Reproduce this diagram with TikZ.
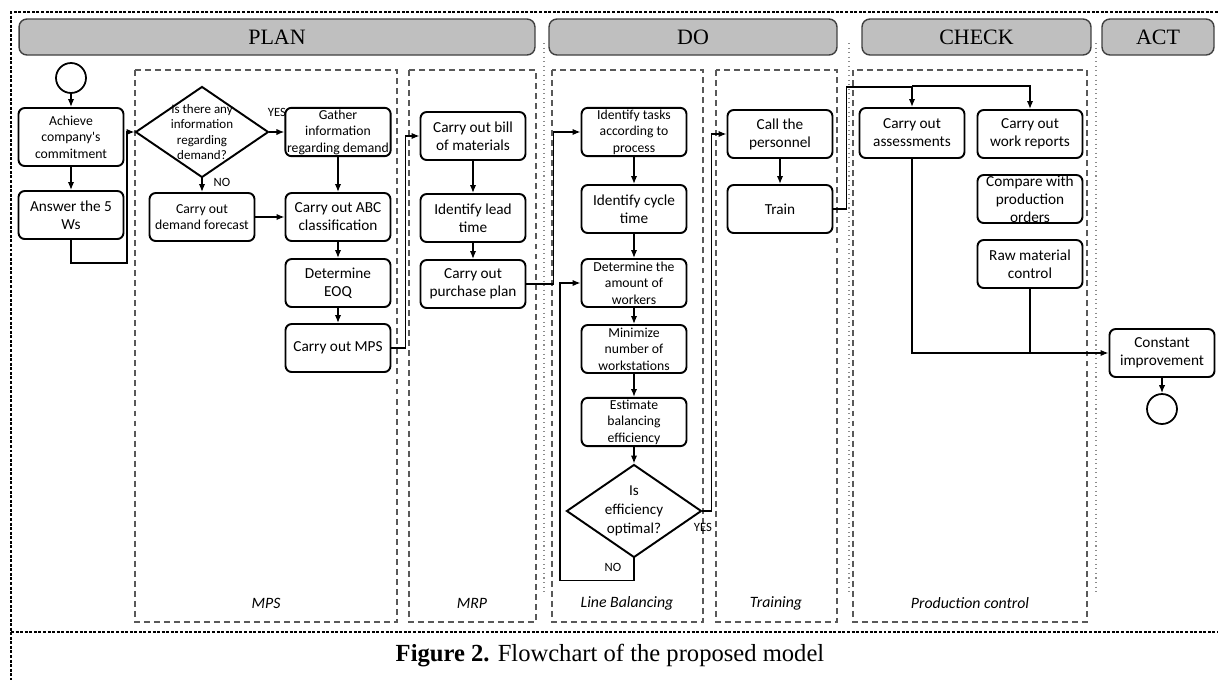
\documentclass[tikz,border=0pt]{standalone}
\usepackage{fontspec}
\setmainfont{Liberation Serif}
\newfontfamily\boxfont{Carlito}
\usetikzlibrary{shapes.geometric, arrows.meta}

\tikzset{
  box/.style={draw, fill=white, rounded corners=3.5pt, line width=1.1pt, align=center,
    minimum width=2.1cm, minimum height=0.96cm, inner sep=1pt,
    font=\boxfont\fontsize{8.7}{10.2}\selectfont},
  smallbox/.style={box, font=\boxfont\fontsize{7.8}{9.4}\selectfont},
  query/.style={draw, diamond, fill=white, line width=1.1pt, inner sep=0pt},
  qtext/.style={align=center, inner sep=0pt},
  terminal/.style={draw, circle, line width=1pt, minimum size=0.6cm, inner sep=0pt},
  phase/.style={draw=black!75, fill=black!25, rounded corners=4.5pt, line width=0.8pt,
    minimum height=0.72cm, font=\fontsize{12.5}{14}\selectfont},
  group/.style={draw=black!65, line width=0.85pt, dash pattern=on 3.4pt off 2.3pt},
  grouplabel/.style={font=\boxfont\itshape\fontsize{9}{11}\selectfont},
  reply/.style={font=\boxfont\fontsize{7.2}{8.6}\selectfont, inner sep=0pt},
  lane/.style={draw=black!45, dotted, line width=0.6pt},
  frame/.style={line width=0.8pt, dash pattern=on 1.7pt off 0.9pt},
}

\begin{document}
\begin{tikzpicture}[x=0.02cm, y=-0.02cm, >={Latex[length=4.5pt,width=3.6pt]}, line width=0.85pt]
  \useasboundingbox (0,0) rectangle (1218,680);
  % outer frame
  \draw[frame] (1218,12) -- (11,12) -- (11,680);
  \draw[frame] (11,632) -- (1218,632);

  % phases
  \node[phase, minimum width=10.32cm] (plan)  at (277,37)    {PLAN};
  \node[phase, minimum width=5.76cm]  (do)    at (693,37)    {DO};
  \node[phase, minimum width=4.58cm]  (check) at (976.5,37)  {CHECK};
  \node[phase, minimum width=2.24cm]  (act)   at (1158,37)   {ACT};
  \draw[lane] (544,43) -- (544,593);
  \draw[lane] (849,43) -- (849,593);
  \draw[lane] (1096,43) -- (1096,593);

  % groups
  \draw[group] (135,70) rectangle (397,622);
  \draw[group] (409,70) rectangle (536,622);
  \draw[group] (552,70) rectangle (703,622);
  \draw[group] (716,70) rectangle (837,622);
  \draw[group] (853,70) rectangle (1087,622);
  \node[grouplabel] (lmps)  at (266,603)  {MPS};
  \node[grouplabel] (lmrp)  at (472,603)  {MRP};
  \node[grouplabel] (llb)   at (627,603)  {Line Balancing};
  \node[grouplabel] (ltr)   at (776,603)  {Training};
  \node[grouplabel] (lpc)   at (970,603)  {Production control};

  % PLAN
  \node[terminal] (start) at (71,78) {};
  \node[smallbox, minimum height=1.16cm] (achieve) at (71,137) {Achieve\\company's\\commitment};
  \node[box] (ws) at (71,215) {Answer the 5\\Ws};
  \node[query, minimum width=2.66cm, minimum height=1.82cm,
    label={[qtext, font=\boxfont\fontsize{7.4}{8.8}\selectfont]center:Is there any\\information\\regarding\\demand?}]
    (q1) at (202,132) {};
  \node[smallbox] (gather)   at (338,132) {Gather\\information\\regarding demand};
  \node[smallbox] (forecast) at (202,217) {Carry out\\demand forecast};
  \node[box] (abc)  at (338,217) {Carry out ABC\\classification};
  \node[box] (eoq)  at (338,283) {Determine\\EOQ};
  \node[box] (mps)  at (338,348) {Carry out MPS};
  \node[reply] (yes1) at (277,112) {YES};
  \node[reply] (no1)  at (222,182) {NO};

  \node[box] (bom)      at (473,136) {Carry out bill\\of materials};
  \node[box] (lead)     at (473,218) {Identify lead\\time};
  \node[box] (purchase) at (473,284) {Carry out\\purchase plan};

  % DO
  \node[smallbox] (tasks)   at (634,132) {Identify tasks\\according to\\process};
  \node[box]      (cycle)   at (634,209) {Identify cycle\\time};
  \node[smallbox] (workers) at (634,283) {Determine the\\amount of\\workers};
  \node[smallbox] (minws)   at (634,349) {Minimize\\number of\\workstations};
  \node[smallbox] (estim)   at (634,422) {Estimate\\balancing\\efficiency};
  \node[query, minimum width=2.7cm, minimum height=1.86cm,
    label={[qtext, font=\boxfont\fontsize{8.6}{10.8}\selectfont]center:Is\\efficiency\\optimal?}]
    (q2) at (634,511) {};
  \node[reply] (yes2) at (703,527) {YES};
  \node[reply] (no2)  at (613,567) {NO};

  \node[box] (call)  at (780,134) {Call the\\personnel};
  \node[box] (train) at (780,209) {Train};

  % CHECK
  \node[box, minimum height=1cm] (assess) at (912,133) {Carry out\\assessments};
  \node[box] (reports) at (1030,134) {Carry out\\work reports};
  \node[box, inner ysep=-2pt, minimum height=0.96cm] (compare) at (1030,199) {Compare with\\production\\orders};
  \node[box] (raw) at (1030,264) {Raw material\\control};

  % ACT
  \node[box] (improve) at (1162,353) {Constant\\improvement};
  \node[terminal] (stop) at (1162,409) {};

  \path[->]
    (start)    edge (achieve)
    (achieve)  edge (ws)
    (q1)       edge (gather)
    (q1)       edge (forecast)
    (forecast) edge (abc)
    (gather)   edge (abc)
    (abc)      edge (eoq)
    (eoq)      edge (mps)
    (bom)      edge (lead)
    (lead)     edge (purchase)
    (tasks)    edge (cycle)
    (cycle)    edge (workers)
    (workers)  edge (minws)
    (minws)    edge (estim)
    (estim)    edge (q2)
    (call)     edge (train)
    (improve)  edge (stop)
    ;
  \draw[->] (ws.south) -- ++(0,23) -- ++(56,0) |- (q1.west);
  \draw[->] (mps.east) -- ++(14,0) |- (bom.west);
  \draw[->] (purchase.east) -- ++(27,0) |- (tasks.west);
  \draw[->] (q2.south) -- ++(0,22) -- ++(-74,0) |- (workers.west);
  \draw[->] (q2.east) -- ++(9,0) |- (call.west);
  \draw[->] (train.east) -- ++(13,0) -- ++(0,-122) -| (assess.north);
  \draw[->] (assess.north) ++(0,-21) -| (reports.north);
  \draw[->] (assess.south) |- (improve.west);
  \draw (raw.south) -- (raw.south |- improve.west);

  % caption
  \node (caption) at (610,656) {\fontsize{14}{16}\selectfont\textbf{Figure 2.} Flowchart of the proposed model};
\end{tikzpicture}
\end{document}
